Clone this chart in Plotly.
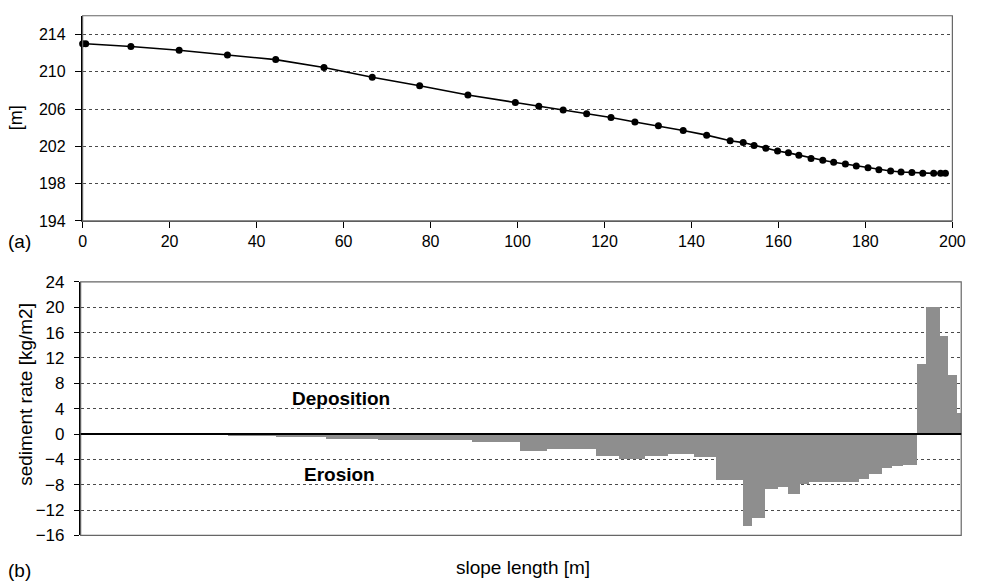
import plotly.graph_objects as go

# ---- data: top panel (elevation profile) ----
top_x = [0, 0.7, 11.1, 22.2, 33.3, 44.4, 55.5, 66.6, 77.5, 88.6, 99.5, 104.9, 110.5, 115.9,
         121.5, 127.0, 132.4, 138.1, 143.5, 148.9, 151.9, 154.4, 157.1, 159.8, 162.3, 164.7,
         167.5, 170.2, 172.7, 175.4, 177.9, 180.6, 183.1, 185.8, 188.2, 190.7, 193.2, 195.7,
         197.3, 198.4]
top_y = [213.0, 213.0, 212.7, 212.3, 211.8, 211.3, 210.45, 209.4, 208.5, 207.5, 206.7, 206.3,
         205.9, 205.5, 205.1, 204.6, 204.2, 203.7, 203.2, 202.6, 202.4, 202.1, 201.8, 201.5,
         201.3, 201.05, 200.7, 200.5, 200.3, 200.1, 199.9, 199.7, 199.5, 199.35, 199.25, 199.2,
         199.1, 199.1, 199.1, 199.1]

# ---- data: bottom panel (sediment rate per slope segment) ----
seg_start = [0, 11.1, 22.2, 33.3, 44.4, 55.6, 67.4, 88.8, 99.8, 105.8, 117.0, 122.1, 128.1,
             133.3, 139.2, 144.3, 150.4, 152.4, 155.4, 158.3, 160.6, 163.4, 165.4, 176.8,
             178.9, 181.9, 184.2, 186.8, 189.8, 191.9, 195.0, 197.0, 198.9]
seg_end = seg_start[1:] + [200.0]
seg_value = [-0.05, -0.05, -0.1, -0.2, -0.4, -0.7, -0.85, -1.2, -2.6, -2.35, -3.5, -4.0, -3.4,
             -3.1, -3.6, -7.3, -14.5, -13.3, -8.7, -8.3, -9.5, -7.9, -7.5, -7.1, -6.3, -5.4,
             -5.1, -4.9, 11.1, 20.1, 15.5, 9.4, 3.4]

top_yticks = [194, 198, 202, 206, 210, 214]
top_xticks = [0, 20, 40, 60, 80, 100, 120, 140, 160, 180, 200]
bot_yticks = [-16, -12, -8, -4, 0, 4, 8, 12, 16, 20, 24]

W, H = 987, 588
FONT = "Liberation Sans, Arial, sans-serif"

def px(x):
    return x / W

def py(y):
    return 1 - y / H

centers = [(a + b) / 2 for a, b in zip(seg_start, seg_end)]
widths = [b - a for a, b in zip(seg_start, seg_end)]

fig = go.Figure()
fig.add_trace(go.Scatter(
    x=top_x, y=top_y, mode="lines+markers",
    line=dict(color="black", width=1.6),
    marker=dict(color="black", size=7),
    xaxis="x", yaxis="y", showlegend=False, cliponaxis=False))
fig.add_trace(go.Bar(
    x=centers, y=seg_value, width=widths,
    marker=dict(color="#8e8e8e", line=dict(width=0)),
    xaxis="x2", yaxis="y2", showlegend=False))

grid = dict(showgrid=True, gridcolor="#4a4a4a", griddash="dot", gridwidth=1)

fig.update_layout(
    width=W, height=H, margin=dict(l=0, r=0, t=0, b=0),
    paper_bgcolor="white", plot_bgcolor="white",
    font=dict(family=FONT, size=16, color="black"),
    bargap=0,
    xaxis=dict(domain=[px(80), px(965)], range=[0, 200], tickvals=top_xticks,
               ticks="outside", ticklen=6, tickcolor="black", showgrid=False,
               zeroline=False, showline=True, linecolor="#555", linewidth=1,
               tickfont=dict(size=16), anchor="y"),
    yaxis=dict(domain=[py(219), py(7)], range=[194, 216], tickvals=top_yticks,
               ticks="outside", ticklen=6, tickcolor="black", zeroline=False,
               showline=True, linecolor="black", linewidth=1.5, ticklabelstandoff=6,
               tickfont=dict(size=16), anchor="x", **grid),
    xaxis2=dict(domain=[px(78), px(974)], range=[0, 200], showticklabels=False,
                ticks="", showgrid=False, zeroline=False, showline=False, anchor="y2"),
    yaxis2=dict(domain=[py(544), py(282)], range=[-16, 24], tickvals=bot_yticks,
                ticks="outside", ticklen=5, tickcolor="black", zeroline=False,
                showline=True, linecolor="black", linewidth=1.5, ticklabelstandoff=6,
                tickfont=dict(size=17), anchor="x2", **grid),
)

# frames (top and right edges, grayish)
fig.add_shape(type="rect", xref="x domain", yref="y domain", x0=0, x1=1, y0=0, y1=1,
              line=dict(color="#666", width=1.2), layer="above")
fig.add_shape(type="rect", xref="x2 domain", yref="y2 domain", x0=0, x1=1, y0=0, y1=1,
              line=dict(color="#666", width=1.2), layer="above")
# zero line in bottom panel
fig.add_shape(type="line", xref="x2 domain", yref="y2", x0=0, x1=1, y0=0, y1=0,
              line=dict(color="black", width=2), layer="above")

ann = [
    dict(text="[m]", x=px(13), y=py(112), textangle=-90, font=dict(size=18)),
    dict(text="(a)", x=px(16), y=py(240), font=dict(size=19)),
    dict(text="sediment rate [kg/m2]", x=px(22), y=py(398), textangle=-90, font=dict(size=19)),
    dict(text="<b>Deposition</b>", x=px(343), y=py(402), font=dict(size=19)),
    dict(text="<b>Erosion</b>", x=px(341), y=py(481), font=dict(size=19)),
    dict(text="slope length [m]", x=px(528), y=py(577), font=dict(size=19)),
    dict(text="(b)", x=px(16), y=py(580), font=dict(size=19)),
]
for a in ann:
    a.update(xref="paper", yref="paper", showarrow=False, xanchor="center", yanchor="middle")
    fig.add_annotation(**a)

fig.write_html(
    "out.html",
    config={"displayModeBar": False},
    post_script="document.documentElement.style.margin='0';document.body.style.margin='0';"
                "document.body.style.overflow='hidden';",
)
